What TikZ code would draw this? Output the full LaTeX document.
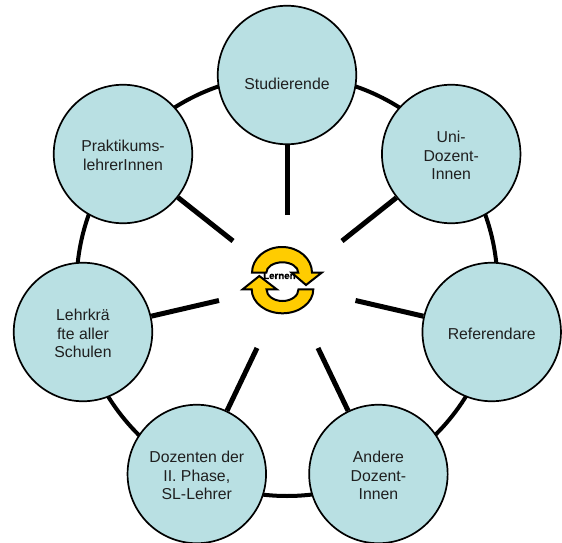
\documentclass[tikz,border=0pt]{standalone}
\usepackage{fontspec}
\setmainfont{Liberation Sans}
\newfontfamily\lernfont[BoldFeatures={FakeBold=1.5}]{Liberation Sans}
\newcommand{\tl}{\rule{0pt}{14.5pt}}
\definecolor{tealfill}{HTML}{B9E0E3}
\definecolor{loopfill}{HTML}{FFCC00}
\tikzset{
  person/.style={circle,draw=black,line width=1.7pt,fill=tealfill,inner sep=0pt,align=center,minimum size=138.5pt,
     font=\fontsize{15.8}{18.7}\selectfont,text=black!88},
  ringline/.style={draw=black,line width=4pt},
  spoke/.style={draw=black,line width=5pt},
  looparrow/.style={draw=black,line width=2pt,fill=loopfill,line join=miter}
}
\begin{document}
\begin{tikzpicture}[x=1pt,y=1pt]
\useasboundingbox (0,0) rectangle (562,542);
\fill[white] (0,0) rectangle (562,542);
% ring
\coordinate (ringc) at (287,256.5);
\draw[ringline] (ringc) circle (210.5);
% spoke free ends
\coordinate (h1) at (287,327);
\coordinate (h2) at (342,301);
\coordinate (h3) at (355.5,241.5);
\coordinate (h4) at (318,194);
\coordinate (h5) at (257,194);
\coordinate (h6) at (219,241.5);
\coordinate (h7) at (233,301);
% nodes
\node[person] (stud) at (287,467) {\rule{0pt}{29pt}Studierende};
\node[person] (uni) at (451.2,388) {\tl Uni-\\Dozent-\\Innen};
\node[person] (ref) at (491.7,210) {\tl Referendare};
\node[person] (and) at (378.4,68) {\tl Andere\\Dozent-\\Innen};
\node[person] (doz) at (196.8,68) {\tl Dozenten der\\II. Phase,\\SL-Lehrer};
\node[person] (lehr) at (83,210) {\tl Lehrkrä\\fte aller\\Schulen};
\node[person] (prak) at (123,388) {\tl Praktikums-\\lehrerInnen};
% spokes
\draw[spoke] (h1) -- (stud);
\draw[spoke] (h2) -- (uni);
\draw[spoke] (h3) -- (ref);
\draw[spoke] (h4) -- (and);
\draw[spoke] (h5) -- (doz);
\draw[spoke] (h6) -- (lehr);
\draw[spoke] (h7) -- (prak);
% cycle arrows
\draw[looparrow] (252,269.3) arc[start angle=180,end angle=0,x radius=30,y radius=25.7] -- (321.7,269.3) -- (306,257) -- (291.7,269.3) -- (298.3,269.3) arc[start angle=0,end angle=180,x radius=16,y radius=10.4] -- cycle;
\draw[looparrow] (313.3,252.7) arc[start angle=0,end angle=-180,x radius=30.8,y radius=24] -- (242.7,252.7) -- (259.3,266) -- (276.7,252.7) -- (266.5,252.7) arc[start angle=-180,end angle=0,x radius=16,y radius=11.7] -- cycle;
\node[font=\lernfont\bfseries\fontsize{9.7}{11}\selectfont,inner sep=0pt] (lern) at (279.4,266.3) {Lernen};
\end{tikzpicture}
\end{document}
